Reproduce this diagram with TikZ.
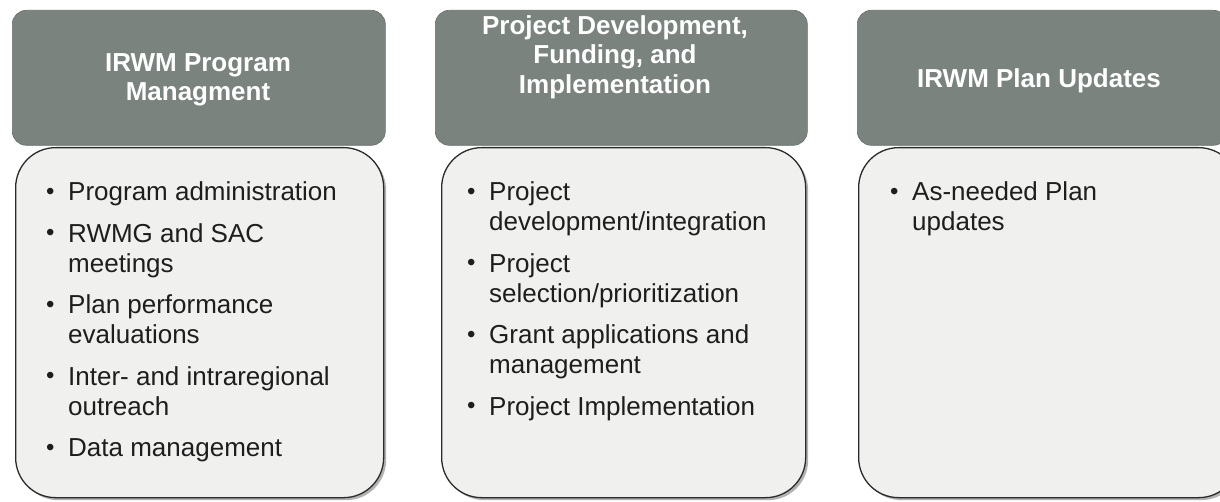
\documentclass[tikz,border=0pt]{standalone}
\usepackage{fontspec}
\setmainfont{Liberation Sans}
\usetikzlibrary{shadows}
\definecolor{headgray}{HTML}{7A837E}
\definecolor{bodyfill}{HTML}{F0F0EE}
\definecolor{edgecol}{HTML}{2A2A2A}
\definecolor{txtcol}{HTML}{1E1E1E}
\newcommand\bitem[1]{\makebox[22pt][l]{\raisebox{1.2pt}{\fontsize{24}{24}\selectfont\textbullet}}#1}
\newcommand\bcont[1]{\hspace*{22pt}#1}
\begin{document}
\begin{tikzpicture}[x=1pt,y=-1pt,
  headbox/.style={fill=headgray, draw=headgray!85!black, line width=0.6pt, rounded corners=14pt,
    minimum height=135pt, anchor=north west, inner sep=0pt},
  bodybox/.style={fill=bodyfill, draw=edgecol, line width=1.3pt, rounded corners=40pt,
    minimum height=350pt, anchor=north west, inner sep=0pt,
    drop shadow={shadow xshift=2.5pt, shadow yshift=-2.5pt, opacity=0.3, fill=black}},
  headtext/.style={text=white, font=\fontsize{26}{29.5}\selectfont\bfseries, align=center,
    anchor=north, inner sep=0pt},
  itemtext/.style={text=txtcol, font=\fontsize{26}{30}\selectfont, align=left,
    anchor=north west, inner sep=0pt},
]
\useasboundingbox (0,0) rectangle (1220,502);
\fill[white] (0,0) rectangle (1220,502);

% header boxes
\node[headbox, minimum width=373pt] (h1) at (12,10) {};
\node[headbox, minimum width=372pt] (h2) at (435,10) {};
\node[headbox, minimum width=370pt] (h3) at (857,10) {};

% body boxes
\node[bodybox, minimum width=368pt] (b1) at (15,147) {};
\node[bodybox, minimum width=364pt] (b2) at (441,147) {};
\node[bodybox, minimum width=380pt] (b3) at (858,147) {};

% header texts
\node[headtext] (t1) at (198,53) {IRWM Program\\Managment};
\node[headtext] (t2) at (615,15) {Project Development,\\Funding, and\\Implementation};
\node[headtext] (t3) at (1039,68.5) {IRWM Plan Updates};

% body texts
\node[itemtext] (l1) at (46,181.5) {\bitem{Program administration}\\[11.5pt]
  \bitem{RWMG and SAC}\\
  \bcont{meetings}\\[11.5pt]
  \bitem{Plan performance}\\
  \bcont{evaluations}\\[11.5pt]
  \bitem{Inter- and intraregional}\\
  \bcont{outreach}\\[11.5pt]
  \bitem{Data management}};
\node[itemtext] (l2) at (467,181.5) {\bitem{Project}\\
  \bcont{development/integration}\\[11.5pt]
  \bitem{Project}\\
  \bcont{selection/prioritization}\\[11.5pt]
  \bitem{Grant applications and}\\
  \bcont{management}\\[11.5pt]
  \bitem{Project Implementation}};
\node[itemtext] (l3) at (890,181.5) {\bitem{As-needed Plan}\\
  \bcont{updates}};
\end{tikzpicture}
\end{document}
